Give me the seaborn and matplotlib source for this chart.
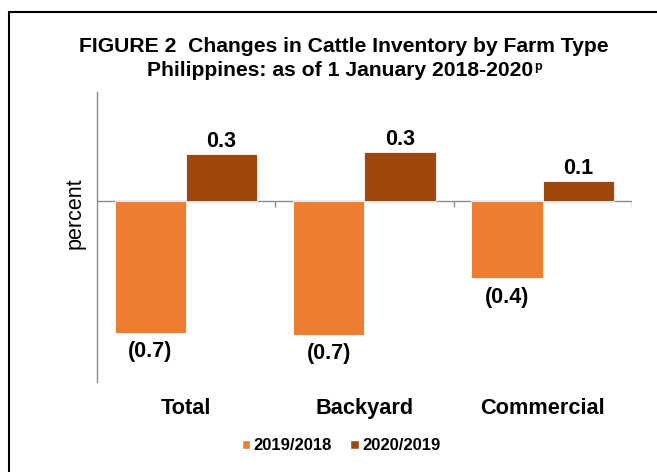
import matplotlib
matplotlib.use("Agg")
import matplotlib.pyplot as plt
import seaborn as sns
import pandas as pd
from matplotlib.lines import Line2D
from matplotlib.patches import Patch

# data
farm_types = ["Total", "Backyard", "Commercial"]
periods = ["2019/2018", "2020/2019"]
change_2019_2018 = [-0.73, -0.74, -0.43]
change_2020_2019 = [0.26, 0.27, 0.11]
colors = ["#ED7D31", "#9E480E"]

df = pd.DataFrame({
    "farm_type": farm_types * 2,
    "period": [periods[0]] * 3 + [periods[1]] * 3,
    "change": change_2019_2018 + change_2020_2019,
})

sns.set_style("white")
plt.rcParams["font.family"] = ["Liberation Sans", "DejaVu Sans"]
plt.rcParams["text.color"] = "black"
plt.rcParams["axes.labelcolor"] = "black"
plt.rcParams["xtick.color"] = "black"

W, H = 657, 472
fig = plt.figure(figsize=(W / 100, H / 100), dpi=100)
ax = fig.add_axes([96.7 / W, 1 - 381.7 / H, 535.3 / W, 289.7 / H])

sns.barplot(data=df, x="farm_type", y="change", hue="period", hue_order=periods,
            palette=colors, saturation=1, width=0.8, gap=0, legend=False,
            edgecolor="white", linewidth=0.6, ax=ax)

ax.set_xlim(-0.5, 2.5)
ax.set_ylim(-1.0, 0.6)

# value labels, negatives in parentheses
for cont, pad in zip(ax.containers, [6, 1]):
    labels = [f"({abs(v):.1f})" if v < 0 else f"{v:.1f}" for v in cont.datavalues]
    ax.bar_label(cont, labels=labels, padding=pad, fontsize=15.5, fontweight="bold",
                 color="black")

gray = "#8C8C8C"
for s in ["top", "right", "bottom"]:
    ax.spines[s].set_visible(False)
ax.spines["left"].set_color(gray)
ax.spines["left"].set_linewidth(1)
ax.axhline(0, color=gray, lw=1, zorder=0.5)
ax.vlines([0.5, 1.5, 2.5], -0.035, 0, color=gray, lw=1)

ax.set_yticks([])
ax.set_xlabel("")
ax.set_ylabel("percent", fontsize=15.5)
ax.yaxis.set_label_coords(-0.02, 0.583)
ax.tick_params(axis="x", length=0, pad=12, labelsize=15.7, labelcolor="black")
for lbl in ax.get_xticklabels():
    lbl.set_fontweight("bold")

# title
fig.text(344 / W, 1 - 47 / H, "FIGURE 2  Changes in Cattle Inventory by Farm Type",
         ha="center", va="center", fontsize=15.2, fontweight="bold")
t2 = fig.text(340 / W, 1 - 71 / H, "Philippines: as of 1 January 2018-2020",
              ha="center", va="center", fontsize=15.2, fontweight="bold")
fig.canvas.draw()
bb = t2.get_window_extent()
fig.text((bb.x1 + 1) / W, 1 - 67 / H, "p", ha="left", va="center",
         fontsize=9, fontweight="bold")

# legend
handles = [Patch(facecolor=c) for c in colors]
fig.legend(handles, periods, loc="center", bbox_to_anchor=(341 / W, 1 - 446 / H),
           ncol=2, frameon=False, prop={"weight": "bold", "size": 12},
           handlelength=0.5, handleheight=0.5, handletextpad=0.2, columnspacing=1.1)

# chart frame (top and left edges visible)
fig.add_artist(Line2D([8.5 / W, 1], [1 - 11.5 / H] * 2, transform=fig.transFigure,
                      color="black", lw=1.5))
fig.add_artist(Line2D([8.5 / W] * 2, [0, 1 - 11.5 / H], transform=fig.transFigure,
                      color="black", lw=1.5))

fig.savefig("out.png", dpi=100)
